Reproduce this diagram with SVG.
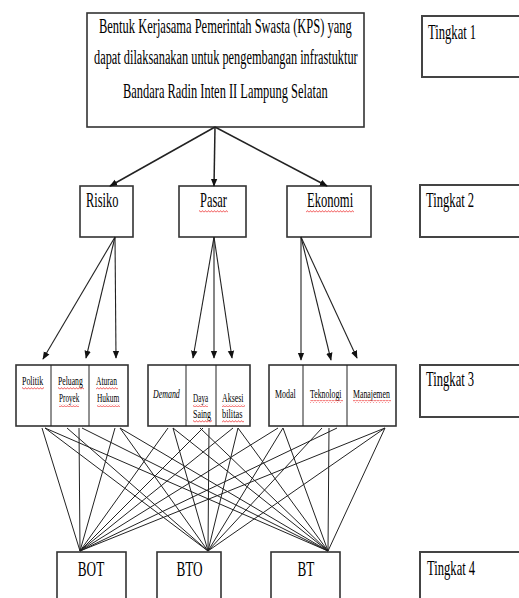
<svg xmlns="http://www.w3.org/2000/svg" width="519" height="598" viewBox="0 0 519 598">
<style>
.box{fill:#fff;stroke:#333;stroke-width:1.6}
.tb{fill:#fff;stroke:#444;stroke-width:2}
.t{font-family:"Liberation Serif","Times New Roman",serif;fill:#000}
.big{font-size:20px}
.lvl{font-size:20px}
.alt{font-size:22px;text-anchor:middle}
.tk{font-size:20px}
.sm{font-size:12px}
.arr{stroke:#222;stroke-width:1.5;fill:none;marker-end:url(#ah)}
.arr2{stroke:#222;stroke-width:1.1;fill:none;marker-end:url(#ah)}
.ln{stroke:#222;stroke-width:1;fill:none}
.sq{fill:url(#wave)}
</style>
<defs>
<marker id="ah" viewBox="0 0 10 10" refX="9" refY="5" markerWidth="8" markerHeight="8" markerUnits="userSpaceOnUse" orient="auto">
<path d="M0,1 L10,5 L0,9 Z" fill="#111"/>
</marker>
<pattern id="wave" width="3" height="3" patternUnits="userSpaceOnUse">
<path d="M0,2.4 L1.5,0.6 L3,2.4" stroke="#e33" stroke-width="0.8" fill="none"/>
</pattern>
</defs>

<g id="tingkat1"><rect class="tb" x="422" y="16" width="110" height="61"/><text class="t tk" transform="translate(428,39) scale(0.63,1)">Tingkat 1</text></g>
<g id="tingkat2"><rect class="tb" x="420" y="185" width="110" height="52"/><text class="t tk" transform="translate(426,207) scale(0.63,1)">Tingkat 2</text></g>
<g id="tingkat3"><rect class="tb" x="420" y="365" width="110" height="52"/><text class="t tk" transform="translate(426,386) scale(0.63,1)">Tingkat 3</text></g>
<g id="tingkat4"><rect class="tb" x="420" y="552" width="110" height="60"/><text class="t tk" transform="translate(427,575) scale(0.63,1)">Tingkat 4</text></g>

<g id="goal">
<rect class="box" x="87" y="13" width="277" height="114"/>
<text class="t big" transform="translate(99,33) scale(0.625,1)">Bentuk Kerjasama Pemerintah Swasta (KPS) yang</text>
<text class="t big" transform="translate(94,64) scale(0.617,1)">dapat dilaksanakan untuk pengembangan infrastuktur</text>
<text class="t big" transform="translate(123,98) scale(0.622,1)">Bandara Radin Inten II Lampung Selatan</text>
</g>

<g id="risiko"><rect class="box" x="80" y="186" width="53" height="51"/><text class="t lvl" transform="translate(86,207) scale(0.62,1)">Risiko</text></g>
<g id="pasar"><rect class="box" x="179" y="186" width="67" height="51"/><text class="t lvl" transform="translate(200,207) scale(0.62,1)">Pasar</text><rect class="sq" x="199" y="210" width="29" height="3"/></g>
<g id="ekonomi"><rect class="box" x="287" y="186" width="84" height="51"/><text class="t lvl" transform="translate(307,207) scale(0.63,1)">Ekonomi</text><rect class="sq" x="306" y="210" width="48" height="3"/></g>

<g id="grup-risiko">
<rect class="box" x="16" y="365" width="112" height="61"/>
<line class="ln" x1="51" y1="365" x2="51" y2="426"/><line class="ln" x1="89" y1="365" x2="89" y2="426"/>
</g>
<g id="politik"><text class="t sm" transform="translate(22,385) scale(0.66,1)">Politik</text><rect class="sq" x="22" y="387" width="22" height="3"/></g>
<g id="peluang-proyek"><text class="t sm" transform="translate(58,385) scale(0.64,1)">Peluang</text><text class="t sm" transform="translate(59,402) scale(0.6,1)">Proyek</text><rect class="sq" x="58" y="387" width="26" height="3"/><rect class="sq" x="59" y="404" width="20" height="3"/></g>
<g id="aturan-hukum"><text class="t sm" transform="translate(96,385) scale(0.63,1)">Aturan</text><text class="t sm" transform="translate(97,402) scale(0.62,1)">Hukum</text><rect class="sq" x="96" y="387" width="22" height="3"/><rect class="sq" x="97" y="404" width="23" height="3"/></g>

<g id="grup-pasar">
<rect class="box" x="148" y="365" width="102" height="61"/>
<line class="ln" x1="186" y1="365" x2="186" y2="426"/><line class="ln" x1="216" y1="365" x2="216" y2="426"/>
</g>
<g id="demand"><text class="t sm" font-style="italic" transform="translate(153,398) scale(0.66,1)">Demand</text></g>
<g id="daya-saing"><text class="t sm" transform="translate(193,402) scale(0.6,1)">Daya</text><text class="t sm" transform="translate(193,418) scale(0.66,1)">Saing</text><rect class="sq" x="193" y="404" width="15" height="3"/><rect class="sq" x="193" y="420" width="19" height="3"/></g>
<g id="aksesibilitas"><text class="t sm" transform="translate(222,402) scale(0.66,1)">Aksesi</text><text class="t sm" transform="translate(222,418) scale(0.7,1)">bilitas</text><rect class="sq" x="222" y="404" width="23" height="3"/><rect class="sq" x="222" y="420" width="22" height="3"/></g>

<g id="grup-ekonomi">
<rect class="box" x="269" y="365" width="127" height="61"/>
<line class="ln" x1="303" y1="365" x2="303" y2="426"/><line class="ln" x1="347" y1="365" x2="347" y2="426"/>
</g>
<g id="modal"><text class="t sm" transform="translate(275,398) scale(0.66,1)">Modal</text></g>
<g id="teknologi"><text class="t sm" transform="translate(310,398) scale(0.65,1)">Teknologi</text><rect class="sq" x="310" y="400" width="33" height="3"/></g>
<g id="manajemen"><text class="t sm" transform="translate(353,398) scale(0.65,1)">Manajemen</text><rect class="sq" x="353" y="400" width="38" height="3"/></g>

<g id="bot"><rect class="box" x="57" y="552" width="69" height="60"/><text class="t alt" transform="translate(91,576) scale(0.6,1)">BOT</text></g>
<g id="bto"><rect class="box" x="157" y="552" width="64" height="60"/><text class="t alt" transform="translate(189.5,576) scale(0.6,1)">BTO</text></g>
<g id="bt"><rect class="box" x="271" y="552" width="69" height="60"/><text class="t alt" transform="translate(306,576) scale(0.6,1)">BT</text></g>

<g id="connectors">
<path class="arr" d="M215,127 L110,186"/>
<path class="arr" d="M215,127 L214,186"/>
<path class="arr" d="M215,127 L327,186"/>

<path class="arr2" d="M115,237 L43,359"/>
<path class="arr2" d="M115,237 L86,358"/>
<path class="arr2" d="M115,237 L116,358"/>
<path class="arr2" d="M214,237 L193,358"/>
<path class="arr2" d="M214,237 L214,358"/>
<path class="arr2" d="M214,237 L232,358"/>
<path class="arr2" d="M301,237 L301,360"/>
<path class="arr2" d="M301,237 L331,360"/>
<path class="arr2" d="M301,237 L357,358"/>

<g>
<path class="ln" d="M42,428 L80,551 M79,428 L80,551 M115,428 L80,551 M168,428 L80,551 M203,428 L80,551 M233,428 L80,551 M278,428 L80,551 M337,428 L80,551 M385,428 L80,551"/>
<path class="ln" d="M45,428 L208,551 M67,428 L208,551 M120,428 L208,551 M173,428 L208,551 M209,428 L208,551 M238,428 L208,551 M283,428 L208,551 M322,428 L208,551 M385,428 L208,551"/>
<path class="ln" d="M45,428 L328,551 M82,428 L328,551 M120,428 L328,551 M173,428 L328,551 M200,428 L328,551 M238,428 L328,551 M283,428 L328,551 M329,428 L328,551 M385,428 L328,551"/>
</g>
</g>
</svg>
